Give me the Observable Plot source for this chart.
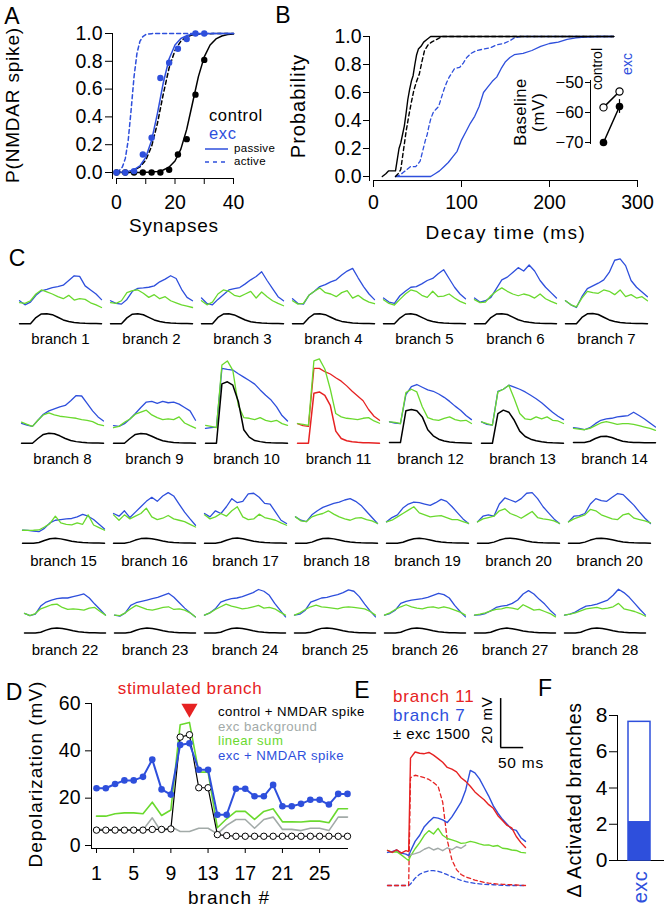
<!DOCTYPE html>
<html><head><meta charset="utf-8">
<script src="https://cdn.jsdelivr.net/npm/d3@7"></script>
<script src="https://cdn.jsdelivr.net/npm/@observablehq/plot@0.6"></script>
<style>
html,body{margin:0;padding:0;background:#fff;}
#fig{position:relative;width:667px;height:907px;overflow:hidden;font-family:"Liberation Sans",Arial,Helvetica,sans-serif;color:#000;background:#fff;}
.p{position:absolute;}
.t{position:absolute;white-space:nowrap;line-height:1;}
#fig svg{overflow:visible;font-family:"Liberation Sans",Arial,Helvetica,sans-serif;background:none;}
</style></head><body><div id="fig"></div>
<script>
const BLUE="#2e4fdc", GREEN="#6ad92e", RED="#e62222", GRAY="#a2aaa8", BLACK="#000";

// ---------- Panel A ----------
const aDotX = [0,3,6,9,12,15,18,21,24,27,30];
const aControlDots = [0,0,0,0,0,0,0.02,0.13,0.24,0.56,0.81];
const aExcDots = [0,0,0.01,0.13,0.25,0.68,0.79,0.89,0.96,1,1];
const aFitX = [0,2,4,6,8,10,12,14,16,18,20,22,24,26,28,30,32,34,36,38,40];
const aControlPassive = [0,0.0001,0.0002,0.0003,0.0007,0.0017,0.0037,0.008,0.018,0.039,0.083,0.168,0.31,0.5,0.69,0.832,0.917,0.961,0.982,0.992,0.996];
const aControlActive = [0.0013,0.0031,0.0074,0.017,0.04,0.089,0.188,0.354,0.565,0.754,0.879,0.945,0.976,0.99,0.996,0.998,0.999,1,1,1,1];
const aExcPassive = [0.0014,0.0033,0.008,0.02,0.047,0.109,0.231,0.426,0.646,0.818,0.917,0.964,0.985,0.994,0.998,0.999,1,1,1,1,1];
const aExcActiveX = [0,1,2,3,4,5,6,7,8,9,10,11,12,14,16,20,25,30,35,40];
const aExcActive = [0.0055,0.0148,0.039,0.0998,0.231,0.45,0.69,0.858,0.943,0.978,0.992,0.997,0.999,1,1,1,1,1,1,1];

// ---------- Panel B ----------
const bCtrlPassiveX = [10,14,17,25,27,29,31,33,35,37,39,41,43,45,47,49,51,54,57,61,65,273];
const bCtrlPassiveY = [0,0.02,0.04,0.04,0.12,0.2,0.24,0.3,0.36,0.45,0.55,0.62,0.68,0.72,0.8,0.87,0.91,0.93,0.96,0.98,1,1];
const bCtrlActiveX = [25,28,31,33,35,37,40,43,46,49,52,55,58,62,66,72,78,273];
const bCtrlActiveY = [0,0.02,0.05,0.14,0.23,0.32,0.43,0.53,0.62,0.68,0.73,0.82,0.9,0.94,0.96,0.98,1,1];
const bExcActiveX = [25,30,34,38,42,48,53,55,57,59,61,63,65,68,71,74,77,80,83,86,89,92,98,102,106,111,117,125,133,140,148,155,160,167,273];
const bExcActiveY = [0,0.01,0.03,0.05,0.07,0.07,0.11,0.16,0.21,0.26,0.3,0.36,0.41,0.46,0.48,0.5,0.56,0.62,0.67,0.71,0.74,0.77,0.78,0.81,0.85,0.88,0.9,0.91,0.92,0.94,0.95,0.97,0.99,1,1];
const bExcPassiveX = [25,65,70,75,80,85,90,95,100,105,110,115,120,125,130,135,140,145,150,155,160,170,180,190,200,210,220,230,240,255,273];
const bExcPassiveY = [0,0,0.02,0.04,0.07,0.1,0.14,0.18,0.26,0.32,0.38,0.43,0.5,0.6,0.64,0.68,0.71,0.77,0.82,0.85,0.87,0.88,0.9,0.93,0.95,0.96,0.98,0.99,0.995,1,1];
// inset: baseline (mV)
const baseGroups = ["control","exc"];
const baseOpen = [-58.3,-53];
const baseOpenErr = [0.3,1.0];
const baseFilled = [-70,-58];
const baseFilledErr = [0.3,2.3];

// ---------- Panel C ----------
const cTime = [0,20,40,60,80,100,120,140,160,180,200,220,240,260,280,300];
const cLabels = ["branch 1","branch 2","branch 3","branch 4","branch 5","branch 6","branch 7",
 "branch 8","branch 9","branch 10","branch 11","branch 12","branch 13","branch 14",
 "branch 15","branch 16","branch 17","branch 18","branch 19","branch 20","branch 20",
 "branch 22","branch 23","branch 24","branch 25","branch 26","branch 27","branch 28"];
const cStimulatedBranch = ["branch 11"];
const cUpper = [
 [17,14,16,21,24.4,25.5,26.8,27.5,28.5,32,35.5,35,28,25,22,17.8],
 [17,15,14.5,18,24,26.2,26.5,27,28,31,33,35.5,33.5,25.5,19.5,17],
 [19,15,14,18,21.5,25,26,26.8,29.5,32.5,35,38.5,32,26,20,17],
 [18.5,15,14.5,21,24,27.5,29,31,32.5,36,39,41,34,27.5,22,17.8],
 [19,16,15,20.7,24,27,27.5,29.5,32,33.5,37,40,33.5,27,22,18.5],
 [19,16,17,19.5,26,32.5,34.5,38,41.5,39,43.5,39,32,27,23,19],
 [17,14,12,20,26,28,30,32.5,38,47,48,43,32,27,23.5,20],
 [14.8,13.5,12.5,17,21.5,24,25.5,27,28,31.5,35.3,35,29.5,24,19.5,16.5],
 [13,12.5,14.5,18,22,26.5,30.5,31,29.5,31,30,30.5,29,26.5,24,17],
 [11,11.5,12,55.5,54.8,54.2,51.5,49,46.5,43.8,39.5,35.5,32,27,20.5,16.5],
 [14.6,13,12.5,55.5,55.5,53,51.3,48.5,46,42.5,38.5,35,31.5,25,20,17],
 [15.8,15,14.6,36,42,43.5,41.5,39.5,38.5,36.5,34,31,27.5,24.5,20.5,17.5],
 [15.8,14,13.5,38.5,40,43,41.5,40,38,35.5,33,30,26.5,23,20,17.5],
 [11.6,11,10,11.5,14.5,17,18,18.5,19.5,20,20.5,23,20.5,18,15,12],
 [9.6,9.5,9,8.5,11,15,17,17.5,18,18.3,19.5,21.3,20,17.5,14,10.5],
 [22,20,24,19,23,27,31,34,31,35,37.5,35,29,23,18,13.3],
 [22,19.5,24,22,27,33,30,31,36.5,37,34,29.5,29,23,17,14.6],
 [19.5,17,16,21,24,26.5,28,29.5,30.5,32,33,31,28,23.5,19,14.6],
 [15.8,19,21,26,29,30.5,30,29,28,30,32.5,31,27,22.5,18,14.6],
 [15.8,20,21,20,29,33.5,32,30.5,33,37,37.5,33,27,22.5,18,14.6],
 [15.8,20,20.5,22,29,33,31.5,31,34,36.8,36,32,28,23,18.5,14.6],
 [14.6,13,14,20,23,24.5,25.5,26,26,27,28,29,26,21.5,17.5,13.3],
 [13.3,12.5,15,20.5,22.5,23.5,24.5,25.5,26.5,28,29.5,26.5,22.5,18.5,15,12],
 [13.3,15,18,23,24.5,25.5,26,27,28.5,30,32.3,31,28,22,17,12],
 [13.3,14,17,23,24.5,26,26.5,27.5,28.5,30,32,31,27,21.5,16.5,12],
 [13.3,14.5,17,22,23.5,24.5,25,25.5,26.5,28,29.5,28.5,26,20.5,16,12],
 [13.3,13.5,14.5,16.5,19,20,20.5,22,24.5,29,31.5,29,25,21.5,17,13.3],
 [13.3,14,15.5,18,20,20.5,21.5,23,24.5,28,32.5,30,26.5,22,17.5,13.3]
];
const cGreen = [
 [15.6,15,17,22,25,23.5,22,20,18.5,21,17.5,18.5,18,15.5,14,12],
 [15.6,15,17,23,24.5,25,22.5,19.5,21.5,18.5,20,17,15.5,14,13,12],
 [17,14,16,22,25,24,21,20,22,24,19,23.5,20,17,15,13.3],
 [17,14.5,15,21,24,26.5,23,22,20,23,24.5,19,21,18,16,14.8],
 [17.8,15,13.8,18,22,25,24,21,19.5,24,20,20.5,22,19,16.5,14.8],
 [17.8,15.6,16,20.7,24,26.5,24,22,20.7,22,21,19,22,18.5,16.5,14.8],
 [17,14,12.5,19,24,23,22.5,25,24,21.5,25,20,21.5,19,20,17],
 [15.6,14,12.5,17,21,22.5,21,20,19.5,19,18.5,17.5,17,16,14,13],
 [11.5,12.5,15.5,18,21.5,23,24.5,21,19,17.5,18,17.5,19.5,15,13,11.2],
 [13.3,12.5,11.5,58,61,54,28,19,18.5,17.5,19,17,16,17,14.5,13.3],
 [14.6,14,13.3,61,62.5,55,40,22,19.5,18.5,18,17.5,18.5,19,16.5,14.8],
 [15.8,15.5,14.6,37.5,40,38,27,19,17.5,17,18.5,19.5,17.5,16.5,17,14.6],
 [15.8,14.5,13.5,38,40,43,33,22,18,17.5,19.5,18,19.5,17,16.5,14.6],
 [11,10.5,10,11,13,15,16,15,14,14.5,14.5,14,13,12,11,9.6],
 [9.6,9.5,9.6,9.8,12,14.5,20,15,14,13.5,15,14,21,13.5,11.5,9.6],
 [21,17,21,18,20,22,26,19.5,17.5,18.5,20.5,18,17,16,14,12],
 [21,18,19.5,22,20,24,27,19.5,17.5,18,21.5,19,18,17,15,13.3],
 [19.5,16.5,16,19.5,21,22,24,21.5,19.5,18,17,18.5,19,17.5,16.5,14.6],
 [15.8,17,19.5,22,24.5,27,22.5,21,19.5,20,20.5,19,17.5,17.5,16,14.6],
 [15.8,18,19,20,24,25.5,22,20.5,18.5,21,23.5,19,18,17.5,16.5,14.6],
 [15.8,18,19.5,21,25,24,21,19.5,18,17.5,21,22,18.5,17.5,16.5,15],
 [14.6,13,14.5,18,19.5,21,21.5,19,17.5,18,17.5,17,18.5,19,16,13.3],
 [13.3,13,15,18,20.5,19,17.5,17,18,19,19.5,17.5,18,17,15,12],
 [13.3,15,17.5,19.5,21.5,20,19,18,18.5,19.5,20.5,18.5,19,18,15.5,13.3],
 [13.3,15,17.5,19.5,20.7,19.5,19,18.5,18,19,19.5,19,18.5,18,16,13.3],
 [13.3,15,17.5,19.5,21,19.5,18.5,18,19,19.5,18.5,19.5,18.5,17,15.5,13.3],
 [13.3,14,15,16.5,17.5,18,19,18.5,17.5,21,19,17,17.5,16,14.5,12],
 [13.3,14,15,16.5,18,18.5,19,18,18.5,19.5,22,18,17,16,14.5,12.5]
];
const cLower = [
 [0,0,0,4.5,7.2,7.4,6.7,4.8,2.8,1.6,0.9,0.5,0.3,0.2,0.1,0],
 [0,0,0,4.3,7.0,7.3,6.6,4.7,2.8,1.6,0.9,0.5,0.3,0.2,0.1,0],
 [0,0,0,4.6,7.1,7.3,6.5,4.6,2.7,1.5,0.9,0.5,0.3,0.2,0.1,0],
 [0,0,0,4.4,7.2,7.4,6.7,4.8,2.9,1.7,1.0,0.6,0.3,0.2,0.1,0],
 [0,0,0,4.2,7.0,7.3,6.6,4.7,2.8,1.6,0.9,0.5,0.3,0.2,0.1,0],
 [0,0,0,4.5,7.1,7.4,6.8,4.9,2.9,1.7,1.0,0.5,0.3,0.2,0.1,0],
 [0,0,0,4.6,7.3,7.5,6.8,4.8,2.8,1.6,0.9,0.5,0.3,0.2,0.1,0],
 [0,0,0,3.5,6.5,7.4,7,5.5,3.5,2,1.2,0.7,0.4,0.2,0.1,0],
 [0,0,0,3.5,6.5,7.2,6.8,5.2,3.3,1.9,1.1,0.6,0.3,0.2,0.1,0],
 [0,0,0,44,45.5,43,31,10,4.5,2,1.2,0.6,0.3,0.2,0.1,0],
 [0,0,0,37,38,35.5,28,9,3.5,1.8,1.1,0.7,0.4,0.3,0.2,0],
 [0.5,0.5,0.5,24,25,24,19.5,10,5.5,3,1.7,1,0.6,0.4,0.2,0],
 [0,0,0,22,24.5,23,17,9,5,3,1.8,1.1,0.6,0.3,0.2,0],
 [0.5,0.5,0.5,1.5,3.5,5,5.2,4.2,2.8,1.5,0.9,0.6,0.5,0.4,0.3,0.3],
 [0,0,0,0.5,2,3.3,3.7,3.2,2.3,1.4,0.8,0.5,0.3,0.2,0.1,0],
 [0,0,0,0.8,2.3,3.4,3.7,3.3,2.5,1.6,0.9,0.5,0.3,0.2,0.1,0],
 [0,0,0,0.7,2.2,3.4,3.8,3.3,2.4,1.5,0.9,0.5,0.3,0.2,0.1,0],
 [0,0,0,0.8,2.4,3.5,3.7,3.2,2.4,1.5,0.9,0.5,0.3,0.2,0.1,0],
 [0,0,0,0.7,2.2,3.3,3.6,3.2,2.4,1.5,0.9,0.5,0.3,0.2,0.1,0],
 [0,0,0,0.8,2.3,3.4,3.7,3.3,2.5,1.6,0.9,0.5,0.3,0.2,0.1,0],
 [0,0,0,0.8,2.3,3.4,3.7,3.3,2.5,1.6,0.9,0.5,0.3,0.2,0.1,0],
 [0,0,0,0.6,2.2,3.4,3.8,3.4,2.6,1.7,1,0.6,0.3,0.2,0.1,0],
 [0,0,0,0.6,2.1,3.3,3.7,3.4,2.6,1.7,1,0.6,0.3,0.2,0.1,0],
 [0,0,0,0.6,2.2,3.4,3.8,3.4,2.6,1.7,1,0.6,0.3,0.2,0.1,0],
 [0,0,0,0.7,2.3,3.5,3.8,3.4,2.6,1.7,1,0.6,0.3,0.2,0.1,0],
 [0,0,0,0.6,2.2,3.4,3.8,3.4,2.6,1.7,1,0.6,0.3,0.2,0.1,0],
 [0,0,0,0.6,2.1,3.3,3.7,3.3,2.5,1.6,1,0.6,0.3,0.2,0.1,0],
 [0,0,0,0.6,2.2,3.4,3.8,3.4,2.6,1.7,1,0.6,0.3,0.2,0.1,0]
];

// ---------- Panel D ----------
const dBranch = [1,2,3,4,5,6,7,8,9,10,11,12,13,14,15,16,17,18,19,20,21,22,23,24,25,26,27,28];
const dExcNmdar = [24.2,24.2,26,27.5,27.5,29,36.3,23.7,21.5,42.5,43.2,32,32,13,13,24,24,20.8,20.8,25.6,16.6,16.6,17.6,19.3,19.3,17.3,21.8,21.8];
const dLinearSum = [12.4,12.4,13.4,13.8,13.8,13.4,18.3,12.7,15,51,52,31,31,7.5,11.3,14.4,14.4,11,14.4,15.5,10,10,9.9,10.3,10.3,9.6,15.5,15.5];
const dExcBackground = [7,6.6,6.6,6.6,6.6,6.6,11.7,5.6,8,5.9,5.9,7.3,7.3,4.9,8.5,11,11,7.3,11,12,6.8,6.8,6.3,7.3,7.3,6.3,12,12];
const dControlNmdar = [6.5,6.5,6.5,6.5,6.5,6.5,6.8,6.8,7,45.8,46.8,24.4,24.4,4.6,4.2,3.9,3.9,3.9,3.9,3.9,3.9,3.9,3.9,3.9,3.9,3.9,3.9,3.9];
const dStimulated = [11];
const dTicks = [1,5,9,13,17,21,25];

// ---------- Panel E ----------
const eTime = [0,10,20,30,40,46,50,60,70,80,90,100,110,120,130,140,150,160,170,180,190,200,210,220,230,240,250,260,270,280,290,300];
const eRedSolid = [14.3,13.5,14.6,13.2,14.2,13.8,52,54.5,54,53.8,54.3,53.2,51.8,50.3,48.2,47.5,46.4,44,42.5,40.5,38.2,36.5,35,33,31.5,28.5,26.5,24.5,23.5,20,17.5,15.5];
const eBlueSolid = [13.5,13.8,14.5,13.2,12.8,12.2,14,18,20.5,24,26,27.8,27.5,26.8,25.7,28,31,34,39,47,46,43.5,40,36.5,32.5,29.5,27,25,23,22.5,19.5,18];
const eGreen = [14.3,13.5,13.8,12.5,11,10.2,12,15,17.5,20.5,22.4,21,23.3,20.5,19.2,18.6,18,17.2,17.4,18,17.6,17,16.5,16.6,16,16.3,15.2,15,14.5,14.3,13.5,13.3];
const eGray = [null,null,null,null,null,12.2,12.5,13,13.6,14.8,15.6,14.5,15.2,14.2,15.4,14.6,15.8,15.2,16.5,null,null,null,null,null,null,null,null,null,null,null,null,null];
const eRedDashed = [0,0,0,0,0,0,44,45,44.5,44,43.3,42,40.5,34,18.4,10.5,6.5,4.5,3.5,2.9,2.2,1.7,1.3,1,0.8,0.6,0.5,0.4,0.3,0.2,0.1,0];
const eBlueDashed = [0,0,0,0,0,0,0.6,3,4.6,5.5,6,6.1,5.8,5.2,4.4,3.5,2.8,2.1,1.6,1.2,0.9,0.7,0.5,0.4,0.3,0.2,0.1,0,0,0,0,0];
const eScaleBar = {ms: 50, mv: 20, atMs: 246, atMv: 56.3};

// ---------- Panel F ----------
const fGroups = ["exc"];
const fTotal = [7.65];
const fFilled = [2.15];

// ================= drawing =================
const fig = document.getElementById("fig");
function place(node, left, top){ const d=document.createElement("div"); d.className="p"; d.style.left=left+"px"; d.style.top=top+"px"; d.appendChild(node); fig.appendChild(d); return d; }
function label(text, x, y, o={}){
  const d=document.createElement("div"); d.className="t"; d.textContent=text;
  d.style.left=x+"px"; d.style.top=y+"px"; d.style.fontSize=(o.size||19)+"px";
  d.style.color=o.color||"#000"; if(o.ls!=null) d.style.letterSpacing=o.ls+"px";
  const ax = o.anchor==="start"?"0":o.anchor==="end"?"-100%":"-50%";
  d.style.transform=`translate(${ax},-50%)`+(o.rotate?` rotate(${o.rotate}deg)`:"");
  if(o.anchor==="start"&&o.rotate) d.style.transformOrigin="0 50%";
  fig.appendChild(d); return d;
}
const zip=(xs,ys)=>xs.map((x,i)=>({x,y:ys[i]}));
const TICKFONT=19.5;

// ---- A ----
place(Plot.plot({
  width:250,height:240,marginLeft:112,marginTop:33,marginBottom:62,marginRight:17,
  x:{domain:[0,40],insetLeft:4},y:{domain:[0,1],insetBottom:6},
  marks:[
    Plot.frame({anchor:"left"}),Plot.frame({anchor:"bottom",insetLeft:4}),
    Plot.axisY({ticks:[0,0.2,0.4,0.6,0.8,1],tickFormat:d3.format(".1f"),tickSize:7,tickPadding:3,fontSize:TICKFONT,label:null}),
    Plot.axisX({ticks:[0,10,20,30,40],tickFormat:d=>d%20===0?String(d):"",tickSize:6,tickPadding:11,fontSize:TICKFONT,label:null}),
    Plot.line(zip(aFitX,aControlPassive),{x:"x",y:"y",stroke:BLACK,strokeWidth:1.5}),
    Plot.line(zip(aFitX,aControlActive),{x:"x",y:"y",stroke:BLACK,strokeWidth:1.5,strokeDasharray:"4,3"}),
    Plot.line(zip(aFitX,aExcPassive),{x:"x",y:"y",stroke:BLUE,strokeWidth:1.5}),
    Plot.line(zip(aExcActiveX,aExcActive),{x:"x",y:"y",stroke:BLUE,strokeWidth:1.5,strokeDasharray:"4,3"}),
    Plot.dot(zip(aDotX,aControlDots),{x:"x",y:"y",r:3.2,fill:BLACK}),
    Plot.dot(zip(aDotX,aExcDots),{x:"x",y:"y",r:3.2,fill:BLUE})
  ]}),0,0);
label("A",12,16,{size:23});
label("P(NMDAR spike)",12,105,{rotate:-90,ls:0.8});
label("Synapses",174,225,{ls:0.8});
label("control",209,115,{anchor:"start",size:16.5,ls:0.6});
label("exc",209,133,{anchor:"start",size:16.5,color:BLUE,ls:0.6});
label("passive",234,149,{anchor:"start",size:11.5,ls:0.3});
label("active",234,162,{anchor:"start",size:11.5,ls:0.3});
{
  const s=d3.create("svg").attr("width",26).attr("height",16);
  s.append("line").attr("x1",0).attr("x2",23).attr("y1",2).attr("y2",2).attr("stroke",BLUE).attr("stroke-width",1.5);
  s.append("line").attr("x1",0).attr("x2",23).attr("y1",15).attr("y2",15).attr("stroke",BLUE).attr("stroke-width",1.5).attr("stroke-dasharray","4,4");
  place(s.node(),205,147);
}

// ---- B ----
place(Plot.plot({
  width:407,height:250,marginLeft:109,marginTop:36,marginBottom:70,marginRight:30,
  x:{domain:[0,300],insetLeft:4},y:{domain:[0,1],insetBottom:4},
  marks:[
    Plot.frame({anchor:"left"}),Plot.frame({anchor:"bottom",insetLeft:4}),
    Plot.axisY({ticks:[0,0.2,0.4,0.6,0.8,1],tickFormat:d3.format(".1f"),tickSize:6,tickPadding:2,fontSize:TICKFONT,label:null}),
    Plot.axisX({ticks:[0,100,200,300],tickSize:7,tickPadding:8,fontSize:TICKFONT,label:null}),
    Plot.line(zip(bExcPassiveX,bExcPassiveY),{x:"x",y:"y",stroke:BLUE,strokeWidth:1.3}),
    Plot.line(zip(bExcActiveX,bExcActiveY),{x:"x",y:"y",stroke:BLUE,strokeWidth:1.3,strokeDasharray:"4,3"}),
    Plot.line(zip(bCtrlActiveX,bCtrlActiveY),{x:"x",y:"y",stroke:BLACK,strokeWidth:1.4,strokeDasharray:"4,3"}),
    Plot.line(zip(bCtrlPassiveX,bCtrlPassiveY),{x:"x",y:"y",stroke:BLACK,strokeWidth:1.4})
  ]}),260,0);
label("B",283,15,{size:23});
label("Probability",298,106,{rotate:-90,size:20,ls:1});
label("Decay time (ms)",506,232,{ls:1.5});
// inset
{
  const rows=baseGroups.map((g,i)=>({g,open:baseOpen[i],oe:baseOpenErr[i],filled:baseFilled[i],fe:baseFilledErr[i]}));
  place(Plot.plot({
    width:110,height:120,marginLeft:50,marginTop:40,marginBottom:17,marginRight:10,
    x:{type:"point",domain:baseGroups,range:[55,87],axis:null},
    y:{domain:[-70,-50],insetTop:2,insetBottom:1},
    marks:[
      Plot.frame({anchor:"left"}),
      Plot.axisY({ticks:[-70,-60,-50],tickSize:5,tickPadding:2,fontSize:16.5,label:null}),
      Plot.ruleX(rows,{x:"g",y1:d=>d.filled-d.fe,y2:d=>d.filled+d.fe,stroke:BLACK,strokeWidth:1.2}),
      Plot.ruleX(rows,{x:"g",y1:d=>d.open-d.oe,y2:d=>d.open+d.oe,stroke:BLACK,strokeWidth:1.2}),
      Plot.line(rows,{x:"g",y:"open",stroke:BLACK,strokeWidth:1.5}),
      Plot.line(rows,{x:"g",y:"filled",stroke:BLACK,strokeWidth:1.5}),
      Plot.dot(rows,{x:"g",y:"open",r:3.6,fill:"white",stroke:BLACK,strokeWidth:1.2}),
      Plot.dot(rows,{x:"g",y:"filled",r:3.8,fill:BLACK})
    ]}),540,40);
  label("Baseline",520,112,{rotate:-90,size:16.5,ls:0.5});
  label("(mV)",538,112,{rotate:-90,size:16.5,ls:1});
  label("control",597,69,{rotate:-90,size:14});
  label("exc",627,64,{rotate:-90,size:14,color:BLUE});
}

// ---- C ----
label("C",17,258,{size:23});
const PXMV=1.35;
const cRowLayout=[
  {top:252.8,lo:-2,hi:52,ml:18,mr:20,pad:0.1006,tp:7},
  {top:355.3,lo:-2,hi:65,ml:20,mr:11,pad:0.112,tp:7},
  {top:486.3,lo:-2,hi:42,ml:22,mr:17,pad:0.099,tp:9},
  {top:584.4,lo:-2,hi:36,ml:22,mr:19,pad:0.0956,tp:9}
];
cRowLayout.forEach((L,r)=>{
  const idx=d3.range(r*7,r*7+7);
  const up=[],gr=[],lo=[];
  idx.forEach(b=>cTime.forEach((t,i)=>{
    const stim=cStimulatedBranch.includes(cLabels[b]);
    up.push({b,t,v:cUpper[b][i],stim}); gr.push({b,t,v:cGreen[b][i]}); lo.push({b,t,v:cLower[b][i],stim});
  }));
  const MB=25;
  place(Plot.plot({
    width:667,height:(L.hi-L.lo)*PXMV+MB,marginLeft:L.ml,marginRight:L.mr,marginTop:0,marginBottom:MB,
    fx:{domain:idx,paddingInner:L.pad,paddingOuter:0},
    x:{domain:[0,300],axis:null},y:{domain:[L.lo,L.hi],axis:null},
    marks:[
      Plot.axisFx({anchor:"bottom",tickSize:0,tickPadding:L.tp,fontSize:15,tickFormat:b=>cLabels[b],label:null}),
      Plot.line(up,{fx:"b",x:"t",y:"v",z:"b",stroke:d=>d.stim?RED:BLUE,strokeWidth:1.3,strokeLinejoin:"round"}),
      Plot.line(gr,{fx:"b",x:"t",y:"v",z:"b",stroke:GREEN,strokeWidth:1.3,strokeLinejoin:"round"}),
      Plot.line(lo,{fx:"b",x:"t",y:"v",z:"b",stroke:d=>d.stim?RED:BLACK,strokeWidth:1.5,strokeLinejoin:"round"})
    ]}),0,L.top);
});

// ---- D ----
{
  const rows=dBranch.map((b,i)=>({b,blue:dExcNmdar[i],green:dLinearSum[i],gray:dExcBackground[i],black:dControlNmdar[i]}));
  place(Plot.plot({
    width:360,height:227,marginLeft:91,marginTop:23,marginBottom:59,marginRight:13,
    x:{domain:[1,28],insetLeft:5},y:{domain:[0,60],insetBottom:3},
    marks:[
      Plot.frame({anchor:"left"}),Plot.frame({anchor:"bottom"}),
      Plot.axisY({ticks:[0,20,40,60],tickSize:6,tickPadding:5,fontSize:TICKFONT,label:null}),
      Plot.axisX({ticks:dTicks,tickSize:5,tickPadding:13,fontSize:TICKFONT,label:null}),
      Plot.line(rows,{x:"b",y:"gray",stroke:GRAY,strokeWidth:1.6}),
      Plot.line(rows,{x:"b",y:"green",stroke:GREEN,strokeWidth:1.6}),
      Plot.line(rows,{x:"b",y:"black",stroke:BLACK,strokeWidth:1.2}),
      Plot.dot(rows,{x:"b",y:"black",r:3.2,fill:"white",stroke:BLACK,strokeWidth:1}),
      Plot.line(rows,{x:"b",y:"blue",stroke:BLUE,strokeWidth:2}),
      Plot.dot(rows,{x:"b",y:"blue",r:3.3,fill:BLUE}),
      Plot.dot(dStimulated,{x:d=>d,frameAnchor:"top",dy:5,symbol:"triangle",r:6,fill:RED,rotate:180})
    ]}),0,680);
  label("D",14,692,{size:23});
  label("Depolarization (mV)",35,774,{rotate:-90,ls:1});
  label("branch #",229,897,{ls:1});
  label("stimulated branch",190,688,{size:17,color:RED,ls:0.6});
  label("control + NMDAR spike",218,712,{anchor:"start",size:13.2,ls:0.45});
  label("exc background",218,726.5,{anchor:"start",size:13.2,color:GRAY,ls:0.45});
  label("linear sum",218,741,{anchor:"start",size:13.2,color:GREEN,ls:0.45});
  label("exc + NMDAR spike",218,756,{anchor:"start",size:13.2,color:BLUE,ls:0.45});
}

// ---- E ----
{
  const mk=ys=>eTime.map((t,i)=>({t,v:ys[i]}));
  place(Plot.plot({
    width:160,height:210,marginLeft:0,marginRight:0,marginTop:0,marginBottom:0,
    x:{domain:[0,300],range:[7,145],axis:null},y:{domain:[0,80],range:[195,-1],axis:null},
    marks:[
      Plot.line(mk(eBlueDashed),{x:"t",y:"v",stroke:BLUE,strokeWidth:1.3,strokeDasharray:"4,3"}),
      Plot.line(mk(eRedDashed),{x:"t",y:"v",stroke:RED,strokeWidth:1.3,strokeDasharray:"4,3"}),
      Plot.line(mk(eGreen),{x:"t",y:"v",stroke:GREEN,strokeWidth:1.4}),
      Plot.line(mk(eGray),{x:"t",y:"v",stroke:GRAY,strokeWidth:1.4}),
      Plot.line(mk(eBlueSolid),{x:"t",y:"v",stroke:BLUE,strokeWidth:1.4}),
      Plot.line(mk(eRedSolid),{x:"t",y:"v",stroke:RED,strokeWidth:1.4}),
      Plot.ruleX([eScaleBar],{x:"atMs",y1:"atMv",y2:d=>d.atMv+d.mv,stroke:BLACK,strokeWidth:1.5}),
      Plot.ruleY([eScaleBar],{y:"atMv",x1:"atMs",x2:d=>d.atMs+d.ms,stroke:BLACK,strokeWidth:1.5})
    ]}),380,690);
  label("E",362,690,{size:23});
  label("branch 11",393,696,{anchor:"start",size:17,color:RED,ls:0.8});
  label("branch 7",393,715,{anchor:"start",size:17,color:BLUE,ls:0.8});
  label("± exc 1500",393,733,{anchor:"start",size:15,ls:0.4});
  label("20 mV",486,720,{rotate:-90,size:15,ls:0.8});
  label("50 ms",521,763,{size:15.5,ls:0.8});
}

// ---- F ----
{
  const rows=fGroups.map((g,i)=>({g,total:fTotal[i],filled:fFilled[i]}));
  place(Plot.plot({
    width:127,height:217,marginLeft:77,marginTop:25,marginBottom:47,marginRight:4,
    x:{type:"band",domain:fGroups,range:[88,110],padding:0,axis:null},y:{domain:[0,8]},
    marks:[
      Plot.frame({anchor:"left"}),Plot.frame({anchor:"bottom"}),
      Plot.axisY({ticks:[0,2,4,6,8],tickSize:8,tickPadding:2,fontSize:21,label:null}),
      Plot.barY(rows,{x:"g",y:"total",fill:"white",stroke:BLUE,strokeWidth:1.5}),
      Plot.barY(rows,{x:"g",y:"filled",fill:BLUE})
    ]}),540,690);
  label("F",545,688,{size:23});
  label("Δ Activated branches",575,800,{rotate:-90,size:19.5,ls:0.6});
  label("exc",640,887,{rotate:-90,size:20,color:BLUE,ls:0.5});
}
</script></body></html>
